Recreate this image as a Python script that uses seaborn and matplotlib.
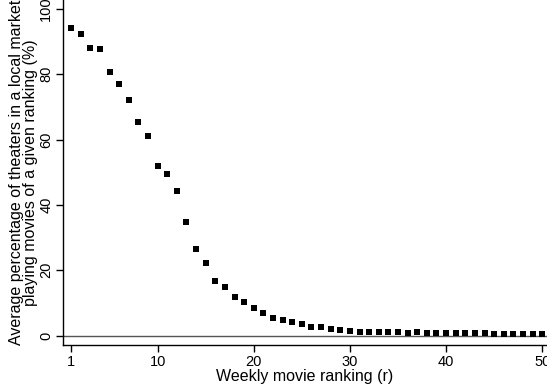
import matplotlib
matplotlib.use("Agg")
import matplotlib.pyplot as plt
import seaborn as sns
import pandas as pd

ranking = list(range(1, 51))
pct_theaters = [94.0, 92.2, 87.9, 87.6, 80.6, 77.0, 72.1, 65.4, 61.1, 52.0,
                49.4, 44.2, 34.7, 26.6, 22.1, 16.8, 15.0, 11.9, 10.4, 8.4,
                7.0, 5.5, 4.8, 4.3, 3.5, 2.7, 2.7, 2.0, 1.8, 1.5,
                1.2, 1.0, 1.0, 1.0, 1.0, 0.8, 1.2, 0.9, 0.7, 0.7,
                0.7, 0.7, 0.7, 0.8, 0.4, 0.4, 0.4, 0.4, 0.4, 0.4]
x_ticks = [1, 10, 20, 30, 40, 50]
y_ticks = [0, 20, 40, 60, 80, 100]
x_label = "Weekly movie ranking (r)"
y_label = "Average percentage of theaters in a local market\nplaying movies of a given ranking (%)"

df = pd.DataFrame({"rank": ranking, "pct": pct_theaters})

sns.set_style("ticks")
plt.rcParams["font.family"] = ["Liberation Sans", "DejaVu Sans"]
plt.rcParams["text.color"] = "black"
plt.rcParams["axes.labelcolor"] = "black"

fig = plt.figure(figsize=(5.47, 3.85), dpi=100)
ax = fig.add_axes([0.115, 0.104, 0.885, 0.896])

ax.axhline(0, color="#555555", linewidth=1.0, zorder=1)
sns.scatterplot(data=df, x="rank", y="pct", marker="s", s=24, color="black",
                linewidth=0, ax=ax, zorder=3)

ax.set_xlim(0.15, 50.5)
ax.set_ylim(-2.85, 102.7)
ax.set_xticks(x_ticks)
ax.set_yticks(y_ticks)
ax.set_yticklabels([str(v) for v in y_ticks], rotation=90, va="center")
ax.tick_params(axis="both", direction="out", length=5, width=1, labelsize=10.5,
               color="black", labelcolor="black")
ax.tick_params(axis="y", pad=2)
ax.tick_params(axis="x", pad=2)
ax.set_xlabel(x_label, fontsize=11.5, labelpad=0, color="black")
ax.set_ylabel(y_label, fontsize=11.5, labelpad=1, linespacing=0.9, color="black")

for side in ["top", "right"]:
    ax.spines[side].set_visible(False)
for side in ["left", "bottom"]:
    ax.spines[side].set_color("black")
    ax.spines[side].set_linewidth(1.0)

fig.savefig("out.png", dpi=100)
